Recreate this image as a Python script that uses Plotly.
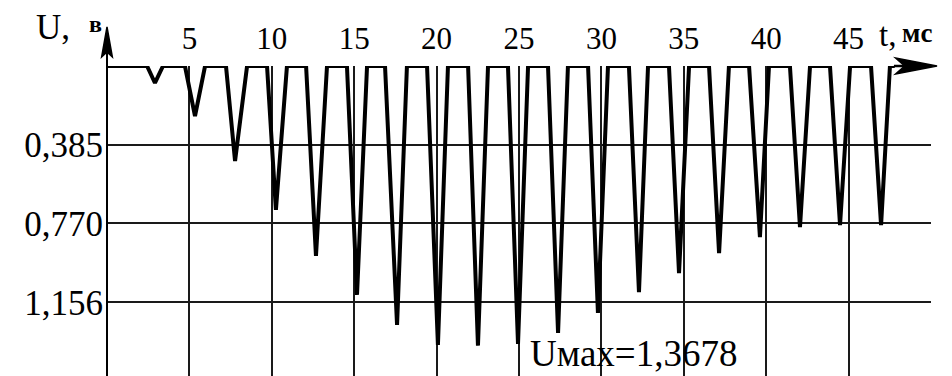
import plotly.graph_objects as go

# Pulse data (t in ms, U in volts, pulses are negative-going dips)
pulse_start = [2.43, 4.73, 7.22, 9.71, 12.08, 14.56, 16.87, 19.42, 21.91, 24.33,
               26.76, 29.19, 31.67, 34.10, 36.53, 38.96, 41.44, 43.87, 46.36]
pulse_bottom = [2.91, 5.34, 7.77, 10.25, 12.68, 15.17, 17.60, 20.08, 22.51, 24.94,
                27.37, 29.79, 32.28, 34.71, 37.14, 39.62, 42.05, 44.48, 46.97]
pulse_end = [3.40, 5.95, 8.50, 10.92, 13.35, 15.78, 18.20, 20.69, 23.12, 25.55,
             27.97, 30.40, 32.83, 35.32, 37.74, 40.17, 42.66, 45.09, 47.51]
pulse_depth = [0.083, 0.245, 0.465, 0.704, 0.929, 1.120, 1.267, 1.365, 1.368, 1.360,
               1.306, 1.208, 1.106, 1.013, 0.915, 0.837, 0.788, 0.778, 0.778]
trace_begin = 0.0
trace_finish = 47.8

x_tick_vals = [5, 10, 15, 20, 25, 30, 35, 40, 45, 50]
x_tick_text = ["5", "10", "15", "20", "25", "30", "35", "40", "45", ""]
y_tick_vals = [0.385, 0.770, 1.156]
y_tick_text = ["0,385", "0,770", "1,156"]
u_max_label = "Uмах=1,3678"

xs = [trace_begin]
ys = [0.0]
for ts, tb, te, d in zip(pulse_start, pulse_bottom, pulse_end, pulse_depth):
    xs += [ts, tb, te]
    ys += [0.0, d, 0.0]
xs.append(trace_finish)
ys.append(0.0)

SERIF = "Liberation Serif, Times New Roman, serif"

fig = go.Figure()
fig.add_trace(go.Scatter(x=xs, y=ys, mode="lines",
                         line=dict(color="black", width=4),
                         hoverinfo="skip", cliponaxis=False))

fig.update_layout(
    width=952, height=376,
    margin=dict(l=107, r=21, t=66, b=0, pad=0),
    paper_bgcolor="white", plot_bgcolor="white",
    showlegend=False,
    font=dict(family=SERIF, color="black"),
    xaxis=dict(range=[0, 50], side="top", tickvals=x_tick_vals, ticktext=x_tick_text,
               showgrid=True, gridcolor="#1a1a1a", gridwidth=1.5, zeroline=False,
               showline=False, ticks="", tickfont=dict(size=31, family=SERIF),
               ticklabelstandoff=10, fixedrange=True),
    yaxis=dict(range=[1.5165, 0], tickvals=y_tick_vals, ticktext=y_tick_text,
               showgrid=True, gridcolor="#1a1a1a", gridwidth=1.5, zeroline=False,
               showline=False, ticks="", tickfont=dict(size=35, family=SERIF),
               ticklabelstandoff=3, fixedrange=True),
)

# y axis line with arrow head (paper coordinates extend above the plot area)
fig.add_shape(type="line", xref="paper", yref="paper", x0=0, x1=0, y0=0, y1=1.06,
              line=dict(color="black", width=2))
fig.add_shape(type="path", xref="paper", yref="paper",
              path="M 0 1.126 L -0.0065 1.029 L 0 1.045 L 0.0065 1.029 Z",
              fillcolor="black", line=dict(color="black", width=1.5))
# x axis arrow head at the right
fig.add_shape(type="line", xref="paper", yref="paper", x0=0.955, x1=1.0, y0=1.0, y1=1.0,
              line=dict(color="black", width=2.5))
fig.add_shape(type="path", xref="paper", yref="paper",
              path="M 1.0073 1.0 L 0.957 1.026 L 0.968 1.0 L 0.957 0.974 Z",
              fillcolor="black", line=dict(color="black", width=1.5))

fig.add_annotation(xref="paper", yref="paper", x=-0.042, y=1.125, text="U,",
                   showarrow=False, xanchor="right", yanchor="middle",
                   font=dict(size=35, family=SERIF))
fig.add_annotation(xref="paper", yref="paper", x=-0.004, y=1.135, text="<b>в</b>",
                   showarrow=False, xanchor="right", yanchor="middle",
                   font=dict(size=24, family=SERIF))
fig.add_annotation(xref="paper", yref="paper", x=0.934, y=1.1, text="t,",
                   showarrow=False, xanchor="left", yanchor="middle",
                   font=dict(size=33, family=SERIF))
fig.add_annotation(xref="paper", yref="paper", x=0.962, y=1.108, text="<b>мс</b>",
                   showarrow=False, xanchor="left", yanchor="middle",
                   font=dict(size=27, family=SERIF))
fig.add_annotation(x=25.55, y=1.405, text=u_max_label, showarrow=False,
                   xanchor="left", yanchor="middle",
                   font=dict(size=37, family=SERIF))

fig.write_html("out.html")
